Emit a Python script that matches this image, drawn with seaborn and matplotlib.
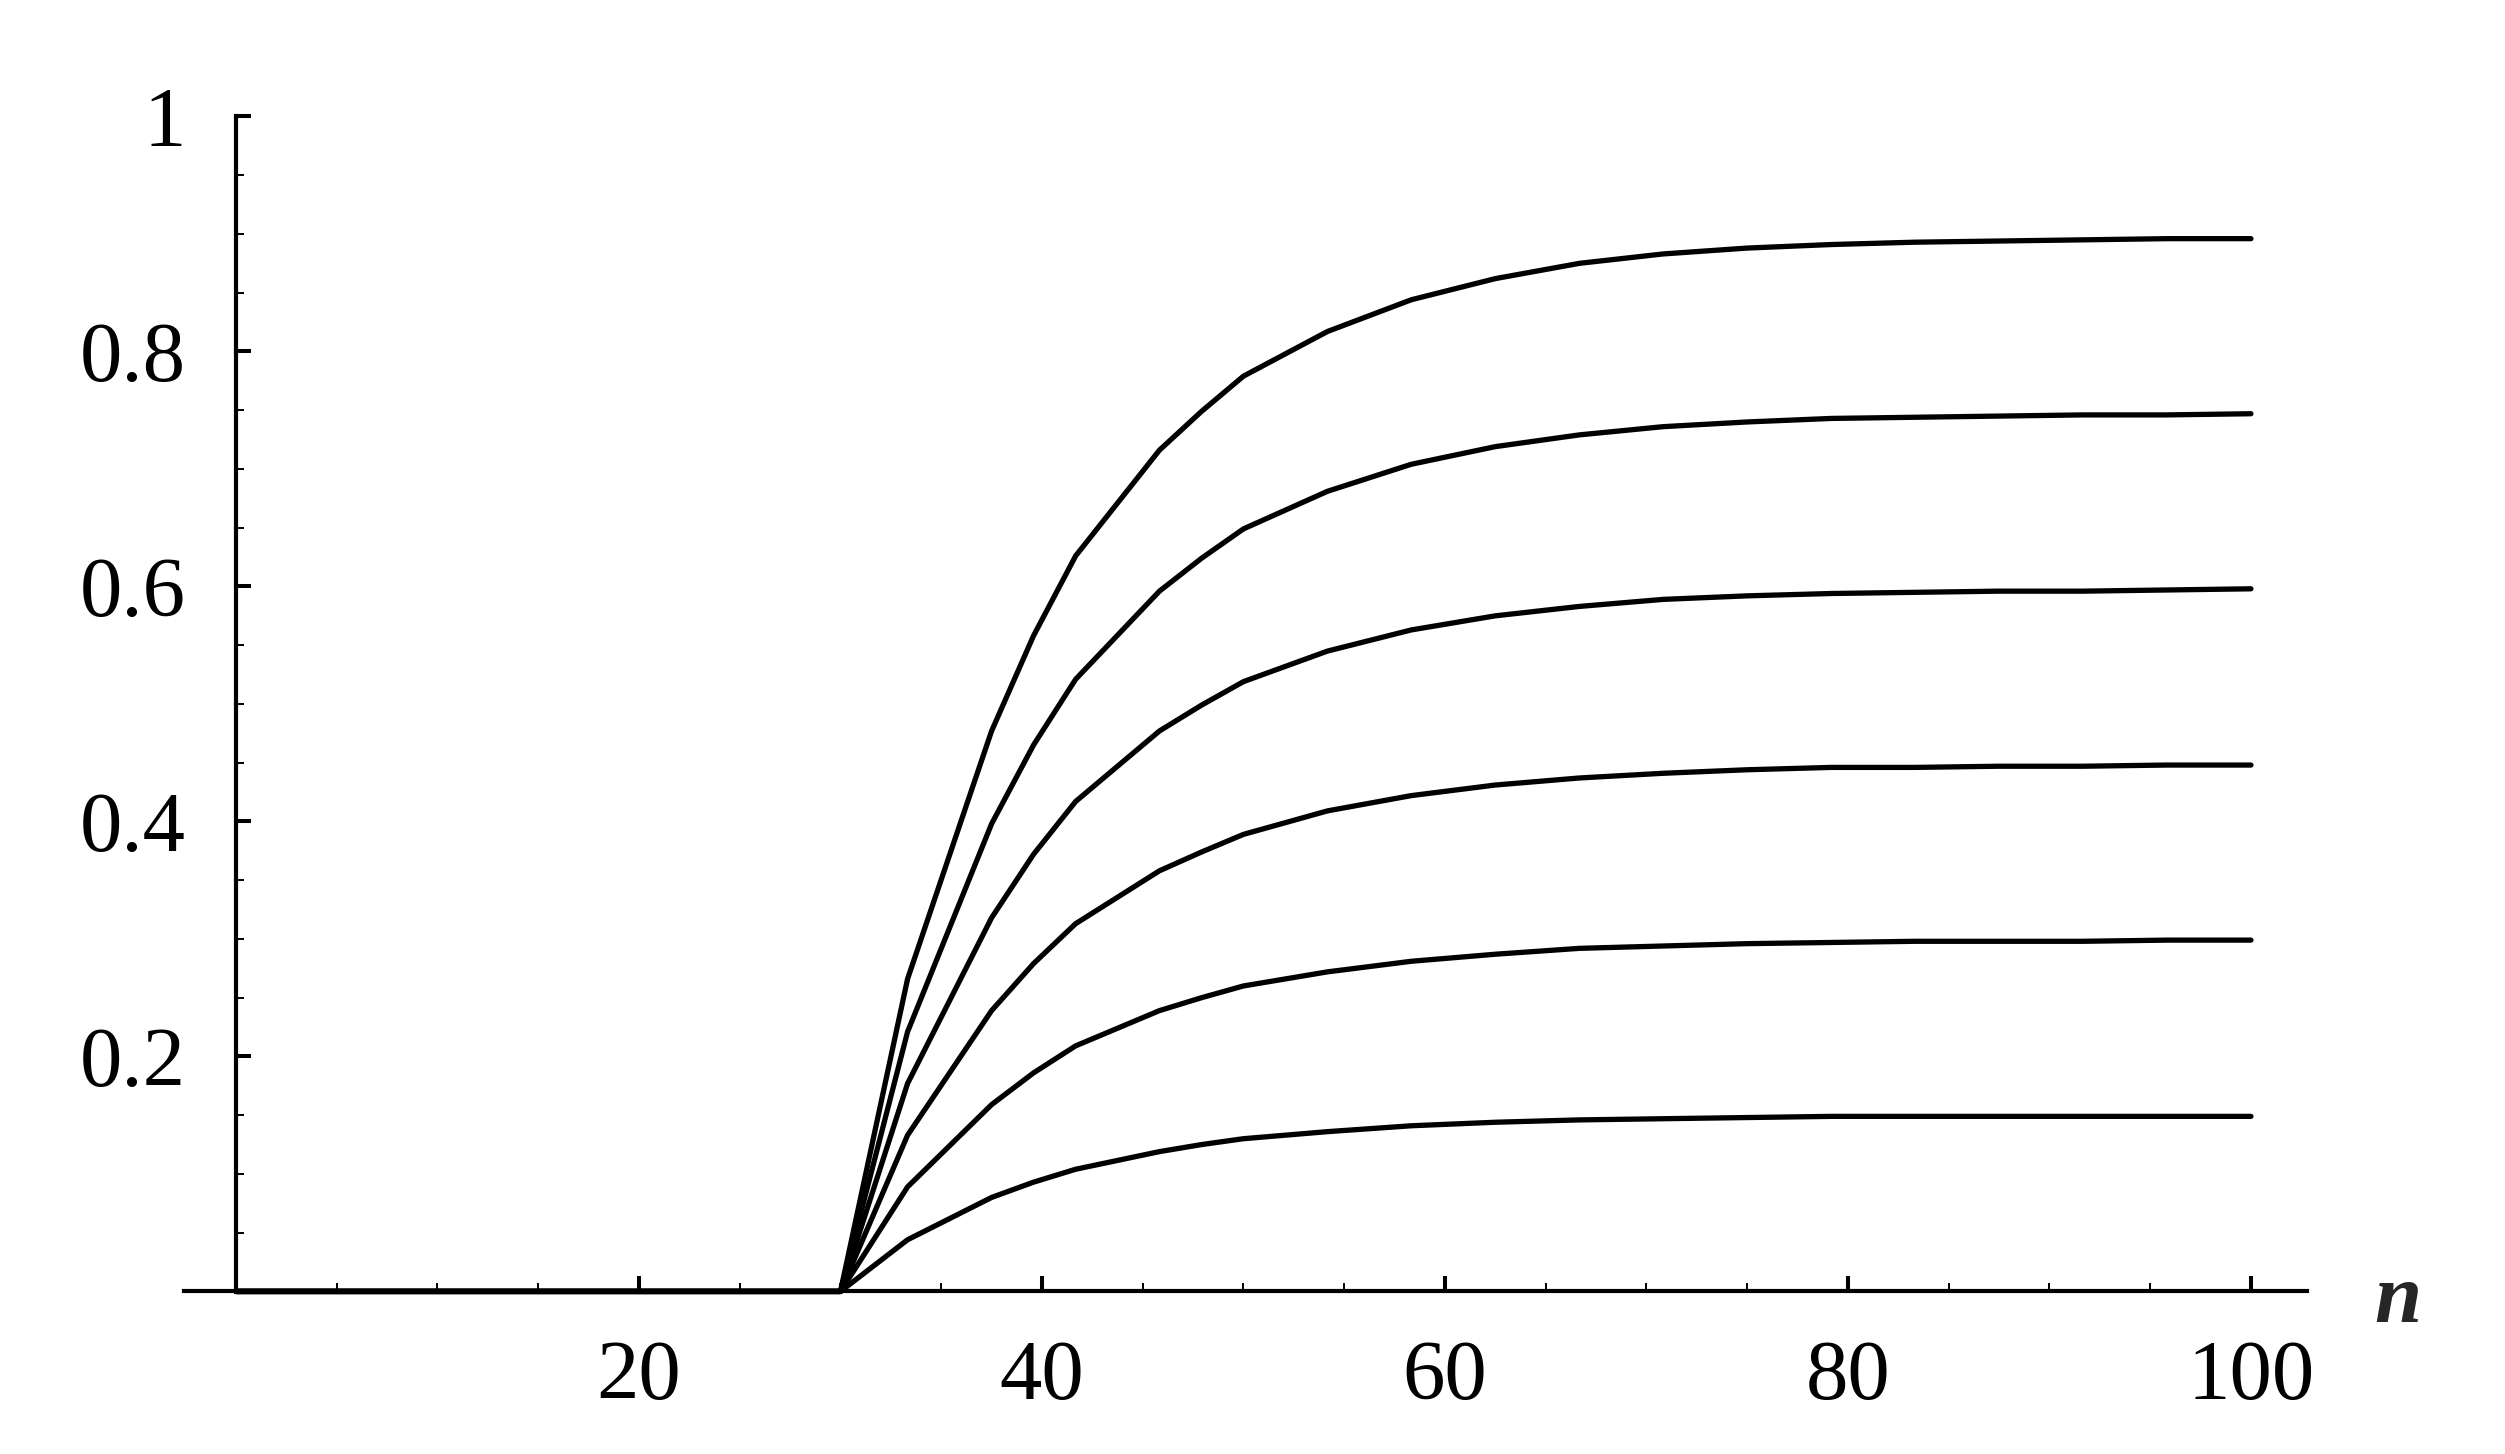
import matplotlib
matplotlib.use("Agg")
import matplotlib.pyplot as plt
import seaborn as sns
import numpy as np
import pandas as pd
from matplotlib.ticker import FixedLocator, FixedFormatter

# ---- data ----
n_values = [0, 30, 33.33, 37.5, 39.58, 41.67, 45.83, 47.92, 50, 54.17, 58.33,
            62.5, 66.67, 70.83, 75, 79.17, 83.33, 87.5, 91.67, 95.83, 100]

curve_090 = [0, 0, 0.266, 0.477, 0.558, 0.626, 0.716, 0.749, 0.779, 0.817, 0.844,
             0.862, 0.875, 0.883, 0.888, 0.891, 0.893, 0.894, 0.895, 0.896, 0.896]
curve_075 = [0, 0, 0.221, 0.398, 0.465, 0.521, 0.596, 0.624, 0.649, 0.681, 0.704,
             0.719, 0.729, 0.736, 0.740, 0.743, 0.744, 0.745, 0.746, 0.746, 0.747]
curve_060 = [0, 0, 0.177, 0.318, 0.372, 0.417, 0.477, 0.499, 0.519, 0.545, 0.563,
             0.575, 0.583, 0.589, 0.592, 0.594, 0.595, 0.596, 0.596, 0.597, 0.598]
curve_045 = [0, 0, 0.133, 0.239, 0.279, 0.313, 0.358, 0.374, 0.389, 0.409, 0.422,
             0.431, 0.437, 0.441, 0.444, 0.446, 0.446, 0.447, 0.447, 0.448, 0.448]
curve_030 = [0, 0, 0.089, 0.159, 0.186, 0.209, 0.239, 0.250, 0.260, 0.272, 0.281,
             0.287, 0.292, 0.294, 0.296, 0.297, 0.298, 0.298, 0.298, 0.299, 0.299]
curve_015 = [0, 0, 0.044, 0.080, 0.093, 0.104, 0.119, 0.125, 0.130, 0.136, 0.141,
             0.144, 0.146, 0.147, 0.148, 0.149, 0.149, 0.149, 0.149, 0.149, 0.149]

x_major_ticks = [20, 40, 60, 80, 100]
x_tick_labels = ["20", "40", "60", "80", "100"]
x_minor_ticks = [5, 10, 15, 25, 30, 35, 45, 50, 55, 65, 70, 75, 85, 90, 95]
y_major_ticks = [0.2, 0.4, 0.6, 0.8, 1.0]
y_tick_labels = ["0.2", "0.4", "0.6", "0.8", "1"]
y_minor_ticks = [0.05, 0.1, 0.15, 0.25, 0.3, 0.35, 0.45, 0.5, 0.55,
                 0.65, 0.7, 0.75, 0.85, 0.9, 0.95]
x_axis_label = "n"

# ---- plotting ----
sns.set_style("ticks")
plt.rcParams["font.family"] = ["Liberation Serif", "DejaVu Serif"]

fig = plt.figure(figsize=(25.05, 14.54), dpi=100)
ax = fig.add_axes([0.0733, 0.1118, 0.8478, 0.8081])

for ys in [curve_090, curve_075, curve_060, curve_045, curve_030, curve_015]:
    sns.lineplot(x=n_values, y=ys, color="black", linewidth=3.8, ax=ax,
                 estimator=None, sort=False, clip_on=False)

ax.set_xlim(-2.6, 102.8)
ax.set_ylim(0, 1)

for s in ["top", "right"]:
    ax.spines[s].set_visible(False)
ax.spines["left"].set_position(("data", 0))
ax.spines["left"].set_bounds(0, 1)
for s in ["left", "bottom"]:
    ax.spines[s].set_linewidth(3.0)
    ax.spines[s].set_color("black")

ax.xaxis.set_major_locator(FixedLocator(x_major_ticks))
ax.xaxis.set_major_formatter(FixedFormatter(x_tick_labels))
ax.xaxis.set_minor_locator(FixedLocator(x_minor_ticks))
ax.yaxis.set_major_locator(FixedLocator(y_major_ticks))
ax.yaxis.set_major_formatter(FixedFormatter(y_tick_labels))
ax.yaxis.set_minor_locator(FixedLocator(y_minor_ticks))

ax.tick_params(which="major", direction="in", length=10.5, width=2.9,
               labelsize=61, color="black", labelcolor="black")
ax.tick_params(which="minor", direction="in", length=5.5, width=1.4, color="black")
ax.tick_params(axis="y", which="major", pad=36)
ax.tick_params(axis="x", which="major", pad=35)

ax.set_xlabel("")
ax.set_ylabel("")

ax.text(107.3, -0.026, x_axis_label, fontsize=61, fontstyle="italic",
        fontweight="bold", ha="center", va="baseline",
        transform=ax.transData, clip_on=False)

fig.savefig("out.png", dpi=100, facecolor="white")
